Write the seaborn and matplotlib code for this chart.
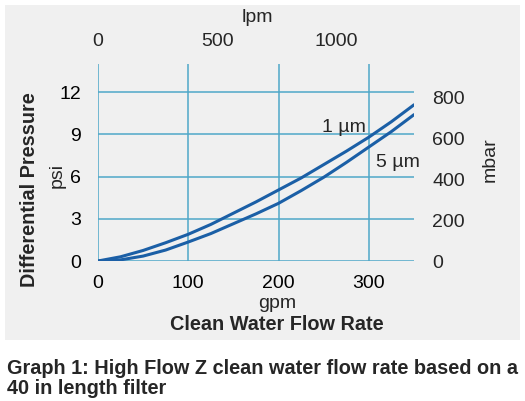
import matplotlib
matplotlib.use("Agg")

import matplotlib.pyplot as plt
from matplotlib.patches import Rectangle
import pandas as pd
import seaborn as sns

# ---------------------------------------------------------------------------
# Data
# ---------------------------------------------------------------------------
flow_gpm = [0, 25, 50, 75, 100, 125, 150, 175, 200, 225, 250, 275, 300, 325, 350]
dp_1um = [0, 0.3, 0.75, 1.3, 1.9, 2.6, 3.4, 4.2, 5.05, 5.9, 6.85, 7.8, 8.8, 9.9, 11.1]
dp_5um = [0, 0.08, 0.35, 0.78, 1.35, 1.95, 2.65, 3.35, 4.1, 5.0, 5.95, 7.0, 8.1, 9.2, 10.4]

gpm_ticks = [0, 100, 200, 300]
psi_ticks = [0, 3, 6, 9, 12]
lpm_ticks = [0, 500, 1000]
mbar_ticks = [0, 200, 400, 600, 800]

LPM_PER_GPM = 3.785
MBAR_PER_PSI = 68.95

GRID = "#4fa8c8"
CURVE = "#1b5fa6"
PANEL = "#f0f0f0"
FS = 14
FS_BOLD = 14.3

sns.set_theme(style="white")
plt.rcParams["font.family"] = ["Liberation Sans", "DejaVu Sans"]

df = pd.DataFrame({"gpm": flow_gpm, "1um": dp_1um, "5um": dp_5um})

W, H = 525, 401
fig = plt.figure(figsize=(W / 100, H / 100), dpi=100)
fig.patch.set_facecolor("white")

# grey panel behind the chart
fig.patches.append(Rectangle((5 / W, 1 - 340 / H), 515 / W, 335 / H,
                             transform=fig.transFigure, facecolor=PANEL,
                             edgecolor="none", zorder=-10))

ax = fig.add_axes([98 / W, 1 - 261 / H, 316 / W, 197 / H])
ax.set_facecolor("none")

sns.lineplot(data=df, x="gpm", y="1um", ax=ax, color=CURVE, linewidth=2.2, zorder=3)
sns.lineplot(data=df, x="gpm", y="5um", ax=ax, color=CURVE, linewidth=2.2, zorder=3)

ax.set_xlim(0, 350)
ax.set_ylim(0, 14)
ax.set_xticks(gpm_ticks)
ax.set_yticks(psi_ticks)
ax.grid(True, color=GRID, linewidth=1.1)
ax.set_axisbelow(True)
for s in ax.spines.values():
    s.set_visible(False)
ax.tick_params(axis="both", length=0, labelsize=FS, colors="black")
ax.tick_params(axis="x", pad=10)
ax.tick_params(axis="y", pad=12)
ax.set_xlabel("")
ax.set_ylabel("")

# top axis: lpm
top = ax.secondary_xaxis("top", functions=(lambda g: g * LPM_PER_GPM,
                                           lambda l: l / LPM_PER_GPM))
top.set_xticks(lpm_ticks)
top.tick_params(length=0, labelsize=FS, pad=10)
top.spines["top"].set_visible(False)

# right axis: mbar
right = ax.secondary_yaxis("right", functions=(lambda p: p * MBAR_PER_PSI,
                                               lambda m: m / MBAR_PER_PSI))
right.set_yticks(mbar_ticks)
right.tick_params(length=0, labelsize=FS, pad=13)
right.spines["right"].set_visible(False)

# curve labels
ax.text(297, 9.5, "1 µm", ha="right", va="center", fontsize=FS)
ax.text(308, 7.0, "5 µm", ha="left", va="center", fontsize=FS)

# axis titles
fig.text(257 / W, 1 - 18 / H, "lpm", ha="center", va="center", fontsize=FS)
fig.text(490 / W, 1 - 160 / H, "mbar", ha="center", va="center", rotation=90, fontsize=FS)
fig.text(57 / W, 1 - 175 / H, "psi", ha="center", va="center", rotation=90, fontsize=FS)
fig.text(30 / W, 1 - 190 / H, "Differential Pressure", ha="center", va="center",
         rotation=90, fontsize=FS_BOLD, fontweight="bold")
fig.text(277 / W, 1 - 303 / H, "gpm", ha="center", va="center", fontsize=FS)
fig.text(277 / W, 1 - 325 / H, "Clean Water Flow Rate", ha="center", va="center",
         fontsize=FS_BOLD, fontweight="bold")

# caption
fig.text(7 / W, 1 - 368 / H, "Graph 1: High Flow Z clean water flow rate based on a",
         ha="left", va="center", fontsize=FS_BOLD, fontweight="bold")
fig.text(7 / W, 1 - 389 / H, "40 in length filter",
         ha="left", va="center", fontsize=FS_BOLD, fontweight="bold")

fig.savefig("out.png", dpi=100)
